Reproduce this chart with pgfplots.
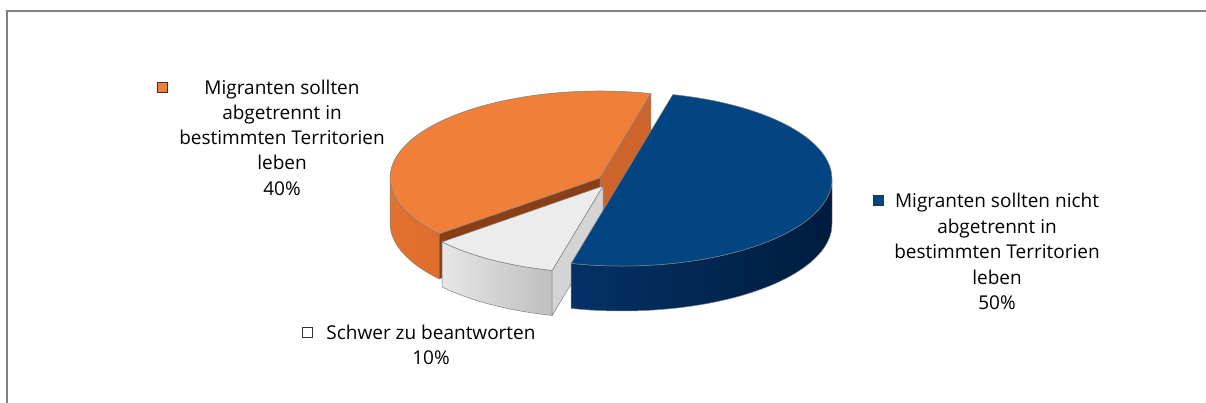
\documentclass[border=0pt]{standalone}
\usepackage{pgfplots}
\pgfplotsset{compat=1.18}
\usepackage{pgfplotstable}
\usepackage{fontspec}
\setmainfont{Open Sans}

% value (percent), exploded slice centre (pixel coordinates)
\pgfplotstableread{
slice value cx cy
blue 50 622 179
grey 10 603 186
orange 40 600 178
}\pietable

\newcommand\getv[3]{\pgfplotstablegetelem{#1}{#2}\of\pietable\let#3\pgfplotsretval}
\getv{0}{value}\vBlue \getv{0}{cx}\xBlue \getv{0}{cy}\yBlue
\getv{1}{value}\vGrey \getv{1}{cx}\xGrey \getv{1}{cy}\yGrey
\getv{2}{value}\vOra  \getv{2}{cx}\xOra  \getv{2}{cy}\yOra

% slices run clockwise from the first angle
\def\firstangle{76}
\pgfmathsetmacro\BlueB{\firstangle}
\pgfmathsetmacro\BlueA{\BlueB-3.6*\vBlue}
\pgfmathsetmacro\GreyB{\BlueA}
\pgfmathsetmacro\GreyA{\GreyB-3.6*\vGrey}
\pgfmathsetmacro\OraB{\GreyA}
\pgfmathsetmacro\OraA{\OraB-3.6*\vOra}
% visible (front) part of the rim
\pgfmathsetmacro\BlueFa{max(\BlueA,-180)}\pgfmathsetmacro\BlueFb{min(\BlueB,0)}
\pgfmathsetmacro\GreyFa{max(\GreyA,-180)}\pgfmathsetmacro\GreyFb{min(\GreyB,0)}
\pgfmathsetmacro\OraFa{max(\OraA,-180)}\pgfmathsetmacro\OraFb{min(\OraB,0)}

\def\rx{210pt}\def\ry{87pt}\def\dep{45pt}

\definecolor{oraTop}{RGB}{240,127,58}
\definecolor{oraSideL}{RGB}{226,113,46}
\definecolor{oraSideR}{RGB}{210,100,38}
\definecolor{oraFaceA}{RGB}{204,100,44}
\definecolor{oraFaceB}{RGB}{138,62,22}
\definecolor{blueTop}{RGB}{2,69,130}
\definecolor{blueSideL}{RGB}{3,50,102}
\definecolor{blueSideR}{RGB}{0,28,62}
\definecolor{greyTop}{RGB}{236,236,236}
\definecolor{greySideL}{RGB}{230,230,230}
\definecolor{greySideR}{RGB}{172,172,172}
\definecolor{greyFace}{RGB}{212,212,212}
\definecolor{edge}{RGB}{128,128,128}

% rim side between angles #2 and #3 of slice centred at #1
\newcommand\rim[4]{\path[draw=edge,line width=0.5pt,#4] (axis cs:#1) ++(#2:\rx\space and \ry) arc[start angle=#2,end angle=#3,x radius=\rx,y radius=\ry] -- ++(0,-\dep) arc[start angle=#3,end angle=#2,x radius=\rx,y radius=\ry] -- cycle;}
\newcommand\face[3]{\path[draw=edge,line width=0.5pt,fill=#3] (axis cs:#1) -- ++(#2:\rx\space and \ry) -- ++(0,-\dep) -- ([yshift=-\dep]axis cs:#1) -- cycle;}
\newcommand\topface[4]{\path[draw=edge,line width=0.5pt,fill=#4] (axis cs:#1) -- ++(#2:\rx\space and \ry) arc[start angle=#2,end angle=#3,x radius=\rx,y radius=\ry] -- cycle;}

\begin{document}
\begin{tikzpicture}
\begin{axis}[
  scale only axis, width=1206pt, height=403pt,
  xmin=0, xmax=1206, ymin=0, ymax=403, y dir=reverse,
  hide axis, clip=true,
]
% frame
\draw[line width=2pt, color={rgb,255:red,128;green,128;blue,128}] (axis cs:7,500) -- (axis cs:7,11) -- (axis cs:1300,11);

% orange (back left)
\face{\xOra,\yOra}{\OraB}{oraFaceB}
\rim{\xOra,\yOra}{\OraFa}{\OraFb}{left color=oraSideL,right color=oraSideR}
\face{\xOra,\yOra}{\OraA}{oraFaceA}
\topface{\xOra,\yOra}{\OraA}{\OraB}{oraTop}
% grey (front)
\rim{\xGrey,\yGrey}{\GreyFa}{\GreyFb}{left color=greySideL,right color=greySideR}
\face{\xGrey,\yGrey}{\GreyB}{greyFace}
\topface{\xGrey,\yGrey}{\GreyA}{\GreyB}{greyTop}
% blue (right)
\rim{\xBlue,\yBlue}{\BlueFa}{\BlueFb}{left color=blueSideL,right color=blueSideR}
\topface{\xBlue,\yBlue}{\BlueA}{\BlueB}{blueTop}

% labels
\path[draw=black!80,line width=0.5pt,fill=oraTop] (axis cs:157,82) rectangle (axis cs:167,92);
\node[align=center,font=\fontsize{19}{25.3}\selectfont,text=black] at (axis cs:282,137.5)
  {Migranten sollten\\abgetrennt in\\bestimmten Territorien\\leben\\40\%};
\path[draw=black!80,line width=0.5pt,fill=blueTop] (axis cs:873,195) rectangle (axis cs:883,205);
\node[align=center,font=\fontsize{19}{25.5}\selectfont,text=black] at (axis cs:997,251.5)
  {Migranten sollten nicht\\abgetrennt in\\bestimmten Territorien\\leben\\50\%};
\path[draw=black!80,line width=0.5pt,fill=white] (axis cs:302,327) rectangle (axis cs:312,337);
\node[align=center,font=\fontsize{19}{25}\selectfont,text=black] at (axis cs:431,344.5)
  {Schwer zu beantworten\\10\%};
\end{axis}
\pgfresetboundingbox
\path (current axis.south west) rectangle (current axis.north east);
\end{tikzpicture}
\end{document}
